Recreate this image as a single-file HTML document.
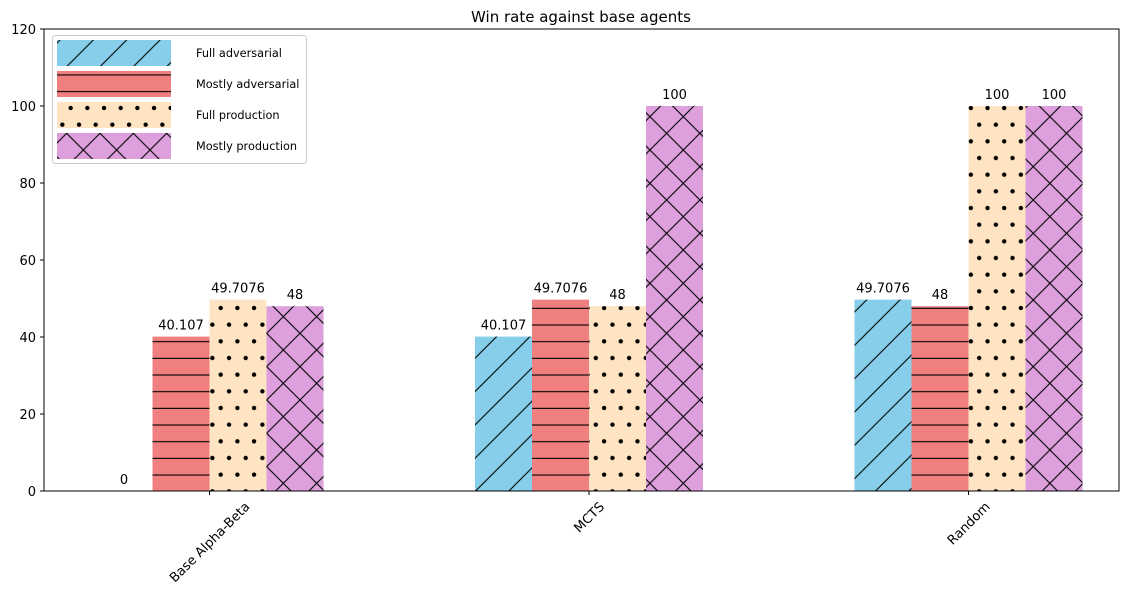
<!DOCTYPE html>
<html><head><meta charset="utf-8"><style>
body{margin:0;background:#fff;}
svg{display:block;font-family:"DejaVu Sans","Liberation Sans",sans-serif;}
</style></head><body>
<svg id="chart" width="1141" height="602" viewBox="0 0 1141 602">
<defs>
<pattern id="p0" patternUnits="userSpaceOnUse" width="33.33" height="33.33"><rect width="33.33" height="33.33" fill="#87ceeb"/><path d="M0,33.33 L33.33,0 M-5,5 L5,-5 M28.33,38.33 L38.33,28.33" stroke="#000" stroke-width="1.1"/></pattern>
<pattern id="p1" patternUnits="userSpaceOnUse" width="16.67" height="16.67"><rect width="16.67" height="16.67" fill="#f08080"/><path d="M0,8.33 H16.67" stroke="#000" stroke-width="1.1"/></pattern>
<pattern id="p2" patternUnits="userSpaceOnUse" width="16.67" height="33.33"><rect width="16.67" height="33.33" fill="#ffe4c4"/><circle cx="4" cy="8" r="2.2" fill="#000"/><circle cx="12.33" cy="24.67" r="2.2" fill="#000"/></pattern>
<pattern id="p3" patternUnits="userSpaceOnUse" width="33.33" height="33.33"><rect width="33.33" height="33.33" fill="#dda0dd"/><path d="M0,33.33 L33.33,0 M0,0 L33.33,33.33" stroke="#000" stroke-width="1.1"/></pattern>
</defs>
<text x="581" y="22" text-anchor="middle" font-size="15">Win rate against base agents</text>
<g id="bars"></g>
<g id="axes"></g>
<rect x="44" y="29" width="1075" height="462" fill="none" stroke="#000" stroke-width="1"/>
<g>
<rect x="52.5" y="35.5" width="254" height="128" rx="3" fill="#fff" fill-opacity="0.85" stroke="#ccc"/>
<g id="legend-items"></g>
</g>
</svg>
<script>
const categories=["Base Alpha-Beta","MCTS","Random"];
const seriesNames=["Full adversarial","Mostly adversarial","Full production","Mostly production"];
const fullAdversarial=[0,40.107,49.7076];
const mostlyAdversarial=[40.107,49.7076,48];
const fullProduction=[49.7076,48,100];
const mostlyProduction=[48,100,100];
const yTicks=[0,20,40,60,80,100,120];
const labels={fullAdversarial:["0","40.107","49.7076"],mostlyAdversarial:["40.107","49.7076","48"],fullProduction:["49.7076","48","100"],mostlyProduction:["48","100","100"]};
const series=[fullAdversarial,mostlyAdversarial,fullProduction,mostlyProduction];
const seriesLabels=[labels.fullAdversarial,labels.mostlyAdversarial,labels.fullProduction,labels.mostlyProduction];
const NS="http://www.w3.org/2000/svg";
const x0=209.5,step=379.5,bw=57;
const xC=i=>x0+i*step;
const y=v=>491-v*(462/120);
function el(t,a,p,txt){const e=document.createElementNS(NS,t);for(const k in a)e.setAttribute(k,a[k]);if(txt!==undefined)e.textContent=txt;p.appendChild(e);return e;}
const bars=document.getElementById('bars'),axes=document.getElementById('axes');
series.forEach((s,j)=>{s.forEach((v,i)=>{
 const bx=xC(i)+(j-2)*bw;
 const r=el('rect',{x:bx,y:y(v),width:bw,height:491-y(v),fill:'url(#p'+j+')'},bars);
 
 
 const t=el('text',{x:bx+bw/2,y:y(v)-7,'text-anchor':'middle','font-size':13},bars,seriesLabels[j][i]);
 
 
});});
yTicks.forEach(v=>{
 el('line',{x1:40,x2:44,y1:y(v),y2:y(v),stroke:'#000'},axes);
 const t=el('text',{x:36,y:y(v)+5,'text-anchor':'end','font-size':13},axes,String(v));
 
 
});
categories.forEach((c,i)=>{
 el('line',{x1:xC(i),x2:xC(i),y1:491,y2:495,stroke:'#000'},axes);
 const t=el('text',{x:0,y:0,'text-anchor':'middle','font-size':13},axes,c);
 
 
 const L=t.getComputedTextLength();
 const cy=500+(L/2+6)*0.7071;
 t.setAttribute('x',xC(i));t.setAttribute('y',cy+4.5);
 t.setAttribute('transform','rotate(-45 '+xC(i)+' '+cy+')');
});
const lg=document.getElementById('legend-items');
seriesNames.forEach((n,j)=>{
 const yy=40+j*31;
 el('rect',{x:57,y:yy,width:114,height:26,fill:'url(#p'+j+')'},lg);
 const t=el('text',{x:196,y:yy+17,'font-size':11.3},lg,n);
 
 
});
</script>
</body></html>
